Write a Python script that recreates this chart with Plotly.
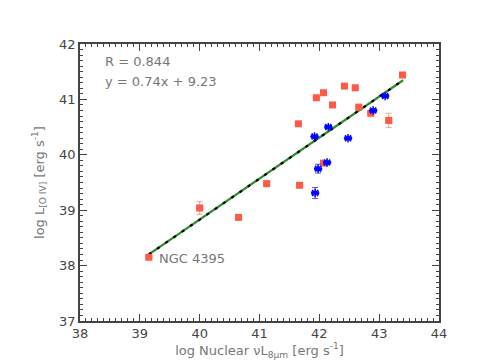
import plotly.graph_objects as go

# Red sample (log nuclear 8um luminosity, log [O IV] luminosity, y error)
red_x = [39.15, 40.0, 40.65, 41.12, 41.67, 41.65, 41.95, 42.07, 42.42, 42.6, 42.22, 42.66, 42.86, 43.16, 43.39, 42.07]
red_y = [38.15, 39.04, 38.87, 39.48, 39.45, 40.56, 41.03, 41.12, 41.24, 41.21, 40.90, 40.86, 40.75, 40.62, 41.44, 39.85]
red_err = [0.02, 0.12, 0.02, 0.02, 0.02, 0.04, 0.03, 0.03, 0.03, 0.03, 0.03, 0.03, 0.03, 0.13, 0.03, 0.03]

# Blue sample
blue_x = [41.92, 42.15, 42.48, 42.9, 43.1, 42.13, 41.98, 41.93]
blue_y = [40.33, 40.50, 40.30, 40.80, 41.06, 39.86, 39.75, 39.31]
blue_err = [0.02, 0.02, 0.02, 0.02, 0.02, 0.02, 0.08, 0.10]
blue_xerr = [0.05, 0.05, 0.05, 0.05, 0.05, 0.05, 0.05, 0.05]

# Fit line y = 0.74x + 9.23
slope, intercept = 0.74, 9.23
fit_x = [39.15, 43.4]
fit_y = [slope * v + intercept for v in fit_x]

red = "#ff5a46"
blue = "#0000ff"
gray = "#777777"

fig = go.Figure()
fig.add_trace(go.Scatter(x=fit_x, y=fit_y, mode="lines",
                         line=dict(color="#2e8b2e", width=2.2), showlegend=False))
fig.add_trace(go.Scatter(x=fit_x, y=fit_y, mode="lines",
                         line=dict(color="black", width=2.2, dash="3px,7px"), showlegend=False))
fig.add_trace(go.Scatter(x=red_x, y=red_y, mode="markers",
                         marker=dict(symbol="square", size=7, color=red),
                         error_y=dict(type="data", array=red_err, color="#ff9a8c", thickness=1, width=3),
                         error_x=dict(type="constant", value=0.05, color="#ff9a8c", thickness=1, width=2),
                         showlegend=False))
fig.add_trace(go.Scatter(x=blue_x, y=blue_y, mode="markers",
                         marker=dict(symbol="asterisk", size=7, color=blue, line=dict(color=blue, width=1.5)),
                         error_y=dict(type="data", array=blue_err, color="#5555ff", thickness=1, width=3),
                         error_x=dict(type="data", array=blue_xerr, color=blue, thickness=1.5, width=2),
                         showlegend=False))

fig.add_annotation(x=0.065, y=0.97, xref="paper", yref="paper", xanchor="left", yanchor="top",
                   text="R = 0.844", showarrow=False, font=dict(size=13, color=gray))
fig.add_annotation(x=0.065, y=0.90, xref="paper", yref="paper", xanchor="left", yanchor="top",
                   text="y = 0.74x + 9.23", showarrow=False, font=dict(size=13, color=gray))
fig.add_annotation(x=39.28, y=38.13, xanchor="left", yanchor="middle",
                   text="NGC 4395", showarrow=False, font=dict(size=13, color=gray))

axis_common = dict(showgrid=False, zeroline=False, showline=True, linecolor="#444444", linewidth=1.5,
                   mirror="allticks", ticks="inside", ticklen=7, tickcolor="#444444",
                   tickfont=dict(size=13, color="#444444"),
                   minor=dict(ticks="inside", ticklen=3, tickcolor="#444444", dtick=0.1))

fig.update_xaxes(range=[38, 44], dtick=1, **axis_common,
                 title=dict(text="log Nuclear \u03bdL<sub>8\u03bcm</sub> [erg s<sup>-1</sup>]",
                            font=dict(size=13, color=gray), standoff=0))
fig.update_yaxes(range=[37, 42], dtick=1, **axis_common,
                 title=dict(text="log L<sub>[O IV]</sub> [erg s<sup>-1</sup>]",
                            font=dict(size=13, color=gray), standoff=12))

fig.update_layout(width=480, height=360, margin=dict(l=72, r=49, t=36, b=47),
                  plot_bgcolor="white", paper_bgcolor="white",
                  font=dict(family="DejaVu Sans"))
fig.write_html("out.html")
